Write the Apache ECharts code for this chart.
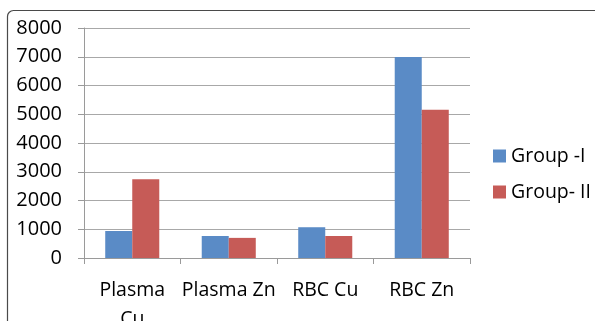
<!DOCTYPE html>
<html>
<head>
<meta charset="utf-8">
<script src="https://cdn.jsdelivr.net/npm/echarts@6/dist/echarts.min.js"></script>
<style>
html,body{margin:0;padding:0;background:#fff;}
#c{width:595px;height:321px;}
</style>
</head>
<body>
<div id="c"></div>
<script>
const categories = ['Plasma Cu', 'Plasma Zn', 'RBC Cu', 'RBC Zn'];
const seriesNames = ['Group -I', 'Group- II'];
const group1 = [940, 765, 1070, 6990];
const group2 = [2740, 700, 765, 5160];
const yTicks = { min: 0, max: 8000, interval: 1000 };

const FONT = "'Open Sans', sans-serif";
const chart = echarts.init(document.getElementById('c'), null, { renderer: 'canvas' });
chart.setOption({
  animation: false,
  backgroundColor: '#fff',
  textStyle: { fontFamily: FONT },
  graphic: [{
    type: 'rect',
    shape: { x: 7.5, y: 10.5, width: 620, height: 400, r: 6 },
    style: { fill: 'none', stroke: '#4a4a4a', lineWidth: 1.2 },
    silent: true
  }],
  grid: { left: 84, right: 125, top: 28, bottom: 63, containLabel: false, outerBoundsMode: 'none' },
  legend: {
    orient: 'vertical',
    left: 488,
    top: 141,
    itemWidth: 13,
    itemHeight: 13,
    itemGap: 16,
    icon: 'rect',
    textStyle: { fontFamily: FONT, fontSize: 19.5, color: '#000' },
    data: seriesNames
  },
  xAxis: {
    type: 'category',
    data: categories,
    axisLine: { lineStyle: { color: '#9a9a9a', width: 1 } },
    axisTick: { show: true, length: 6, alignWithLabel: false, lineStyle: { color: '#9a9a9a' } },
    axisLabel: {
      fontFamily: FONT, fontSize: 19.5, color: '#000', margin: 18, lineHeight: 29, interval: 0,
      formatter: v => v === 'Plasma Cu' ? 'Plasma\nCu' : v
    }
  },
  yAxis: {
    type: 'value',
    min: yTicks.min, max: yTicks.max, interval: yTicks.interval,
    axisLine: { show: true, lineStyle: { color: '#9a9a9a', width: 1 } },
    axisTick: { show: true, length: 6, lineStyle: { color: '#9a9a9a' } },
    splitLine: { lineStyle: { color: '#a8a8a8', width: 1 } },
    axisLabel: { fontFamily: FONT, fontSize: 20, color: '#000', margin: 22, formatter: v => String(v) }
  },
  series: [
    { name: seriesNames[0], type: 'bar', data: group1, barGap: '0%', barCategoryGap: '44%',
      itemStyle: { color: '#5A8BC6' } },
    { name: seriesNames[1], type: 'bar', data: group2, barGap: '0%', barCategoryGap: '44%',
      itemStyle: { color: '#C65B57' } }
  ]
});
</script>
</body>
</html>
